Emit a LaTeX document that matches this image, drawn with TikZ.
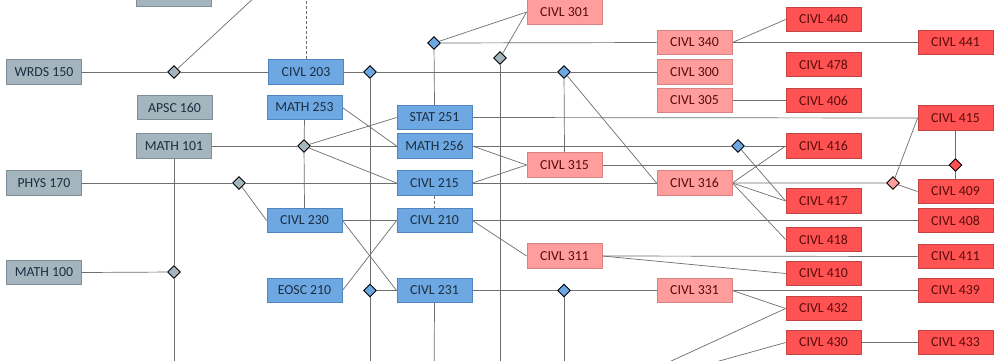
\documentclass[tikz,border=0pt]{standalone}
\usepackage{fontspec}
\setmainfont{Carlito}
\usetikzlibrary{shapes.geometric,backgrounds}
\definecolor{gfill}{HTML}{A5B5BD}
\definecolor{gdraw}{HTML}{7E8E96}
\definecolor{bfill}{HTML}{6EA8E2}
\definecolor{bdraw}{HTML}{4F86BF}
\definecolor{pfill}{HTML}{FF9C9C}
\definecolor{pdraw}{HTML}{D98282}
\definecolor{rfill}{HTML}{FF5252}
\definecolor{rdraw}{HTML}{C44444}
\definecolor{dtext}{HTML}{1C2E40}
\definecolor{rtext}{HTML}{5A0C0C}
\definecolor{lcol}{HTML}{6E6E6E}
\tikzset{
  course/.style={rectangle, minimum width=75pt, minimum height=24.5pt, inner sep=0pt, line width=0.8pt,
    font=\fontsize{13.8}{16}\selectfont},
  gbox/.style={course, fill=gfill, draw=gdraw, text=dtext},
  bbox/.style={course, fill=bfill, draw=bdraw, text=dtext},
  pbox/.style={course, fill=pfill, draw=pdraw, text=rtext},
  rbox/.style={course, fill=rfill, draw=rdraw, text=rtext},
  dia/.style={diamond, aspect=1, minimum size=13pt, inner sep=0pt, draw=black, line width=0.9pt},
  gdia/.style={dia, fill=gfill},
  bdia/.style={dia, fill=bfill},
  rdia/.style={dia, fill=rfill},
  pdia/.style={dia, fill=pfill},
  link/.style={draw=lcol, line width=0.7pt},
  dlink/.style={link, dash pattern=on 3pt off 2pt},
}
\begin{document}
\begin{tikzpicture}[x=1pt,y=-1pt]
\useasboundingbox (0,0) rectangle (1000,360);
\clip (0,0) rectangle (1000,360);
% grey boxes
\node[gbox] (top) at (174,-5.5) {};
\node[gbox] (wrds150) at (44,72) {WRDS 150};
\node[gbox] (apsc160) at (174.5,107.5) {APSC 160};
\node[gbox] (math101) at (174,146) {MATH 101};
\node[gbox] (phys170) at (44,183) {PHYS 170};
\node[gbox] (math100) at (44,272.5) {MATH 100};
% blue boxes
\node[bbox] (civl203) at (306,72) {CIVL 203};
\node[bbox] (math253) at (304.5,107.5) {MATH 253};
\node[bbox] (stat251) at (434.5,117.5) {STAT 251};
\node[bbox] (math256) at (434.5,146) {MATH 256};
\node[bbox] (civl215) at (434.5,183) {CIVL 215};
\node[bbox] (civl210) at (434.5,220.5) {CIVL 210};
\node[bbox] (civl230) at (304.5,220.5) {CIVL 230};
\node[bbox] (eosc210) at (304.5,290.5) {EOSC 210};
\node[bbox] (civl231) at (434.5,290.5) {CIVL 231};
% pink boxes
\node[pbox] (civl301) at (564.5,12) {CIVL 301};
\node[pbox] (civl340) at (694.5,42.5) {CIVL 340};
\node[pbox] (civl300) at (694.5,72) {CIVL 300};
\node[pbox] (civl305) at (694.5,100.5) {CIVL 305};
\node[pbox] (civl315) at (564.5,165) {CIVL 315};
\node[pbox] (civl316) at (694.5,183) {CIVL 316};
\node[pbox] (civl311) at (564.5,256) {CIVL 311};
\node[pbox] (civl331) at (694.5,290.5) {CIVL 331};
% red boxes
\node[rbox] (civl440) at (823.5,19.5) {CIVL 440};
\node[rbox] (civl441) at (955.5,42.5) {CIVL 441};
\node[rbox] (civl478) at (823.5,64.5) {CIVL 478};
\node[rbox] (civl406) at (823.5,100.5) {CIVL 406};
\node[rbox] (civl415) at (955.5,118) {CIVL 415};
\node[rbox] (civl416) at (823.5,146) {CIVL 416};
\node[rbox] (civl409) at (955.5,191.5) {CIVL 409};
\node[rbox] (civl417) at (823.5,201) {CIVL 417};
\node[rbox] (civl408) at (955.5,220.5) {CIVL 408};
\node[rbox] (civl418) at (823.5,239.5) {CIVL 418};
\node[rbox] (civl411) at (955.5,256.5) {CIVL 411};
\node[rbox] (civl410) at (823.5,273.5) {CIVL 410};
\node[rbox] (civl439) at (955.5,290.5) {CIVL 439};
\node[rbox] (civl432) at (823.5,308.5) {CIVL 432};
\node[rbox] (civl430) at (823.5,342.5) {CIVL 430};
\node[rbox] (civl433) at (955.5,342.5) {CIVL 433};
% diamonds
\node[gdia] (dg72) at (174,72) {};
\node[gdia] (dg146) at (304,146) {};
\node[gdia] (dg183) at (239,183) {};
\node[gdia] (dg272) at (174,272) {};
\node[gdia] (dg500) at (500,58) {};
\node[bdia] (db370) at (370,72) {};
\node[bdia] (db434) at (434,43) {};
\node[bdia] (db564) at (564,72) {};
\node[bdia] (db738) at (738,146) {};
\node[bdia] (db370b) at (370,290.5) {};
\node[bdia] (db564b) at (564,290.5) {};
\node[rdia] (dr) at (955.5,165) {};
\node[pdia] (dp) at (893,183) {};
% off-canvas ends
\coordinate (offA) at (284,-30);
\coordinate (offB) at (306,-30);
\coordinate (bot174) at (174,390);
\coordinate (bot370) at (370,390);
\coordinate (bot434) at (434,390);
\coordinate (bot500) at (500,390);
\coordinate (bot564) at (564,390);
\coordinate (botA) at (608,390);
\coordinate (botB) at (615,390);
\begin{scope}[on background layer]
\clip (0,0) rectangle (1000,360);
\fill[white] (0,0) rectangle (1000,360);
\draw[link] (wrds150.east) -- (dg72) -- (civl203.west);
\draw[link] (dg72) -- (offA);
\draw[dlink] (civl203.north) -- (offB);
\draw[link] (civl203.east) -- (db370) -- (db564) -- (civl300.west);
\draw[link] (db370) -- (db370b) -- (bot370);
\draw[link] (db370b) -- (civl231.west);
\draw[link] (db434) -- (civl340.west);
\draw[link] (db434) -- (civl301.west);
\draw[link] (db434) -- (stat251.north);
\draw[link] (dg500) -- (civl301.west);
\draw[link] (dg500) -- (bot500);
\draw[link] (db564) -- (civl315.north);
\draw[link] (db564) -- (civl316.west);
\draw[link] (stat251.east) -- (civl415.west);
\draw[link] (math101.east) -- (dg146) -- (math256.west);
\draw[link] (math253.south) -- (dg146) -- (civl230.north);
\draw[link] (dg146) -- (stat251.west);
\draw[link] (dg146) -- (civl215.west);
\draw[link] (math253.east) -- (math256.west);
\draw[link] (math256.east) -- (db738) -- (civl416.west);
\draw[link] (db738) -- (civl417.west);
\draw[link] (math256.east) -- (civl315.west);
\draw[link] (phys170.east) -- (dg183) -- (civl215.west);
\draw[link] (dg183) -- (civl230.west);
\draw[link] (civl215.east) -- (civl316.west);
\draw[link] (civl215.east) -- (civl315.west);
\draw[link] (civl315.east) -- (dr);
\draw[link] (civl415.south) -- (dr) -- (civl409.north);
\draw[link] (civl316.east) -- (dp) -- (civl409.west);
\draw[link] (dp) -- (civl415.west);
\draw[link] (civl316.east) -- (civl416.west);
\draw[link] (civl316.east) -- (civl417.west);
\draw[link] (civl316.east) -- (civl418.west);
\draw[dlink] (civl215.south) -- (civl210.north);
\draw[link] (civl230.east) -- (civl210.west);
\draw[link] (civl230.east) -- (civl231.west);
\draw[link] (eosc210.east) -- (civl210.west);
\draw[link] (civl210.east) -- (civl408.west);
\draw[link] (civl210.east) -- (civl311.west);
\draw[link] (civl311.east) -- (civl411.west);
\draw[link] (civl311.east) -- (civl410.west);
\draw[link] (civl231.east) -- (db564b) -- (civl331.west);
\draw[link] (db564b) -- (bot564);
\draw[link] (civl231.south) -- (bot434);
\draw[link] (civl331.east) -- (civl439.west);
\draw[link] (civl331.east) -- (civl432.west);
\draw[link] (botA) -- (civl432.west);
\draw[link] (botB) -- (civl430.west);
\draw[link] (civl430.east) -- (civl433.west);
\draw[link] (civl340.east) -- (civl440.west);
\draw[link] (civl340.east) -- (civl441.west);
\draw[link] (civl305.east) -- (civl406.west);
\draw[link] (math101.south) -- (dg272) -- (bot174);
\draw[link] (math100.east) -- (dg272);
\end{scope}
\end{tikzpicture}
\end{document}
